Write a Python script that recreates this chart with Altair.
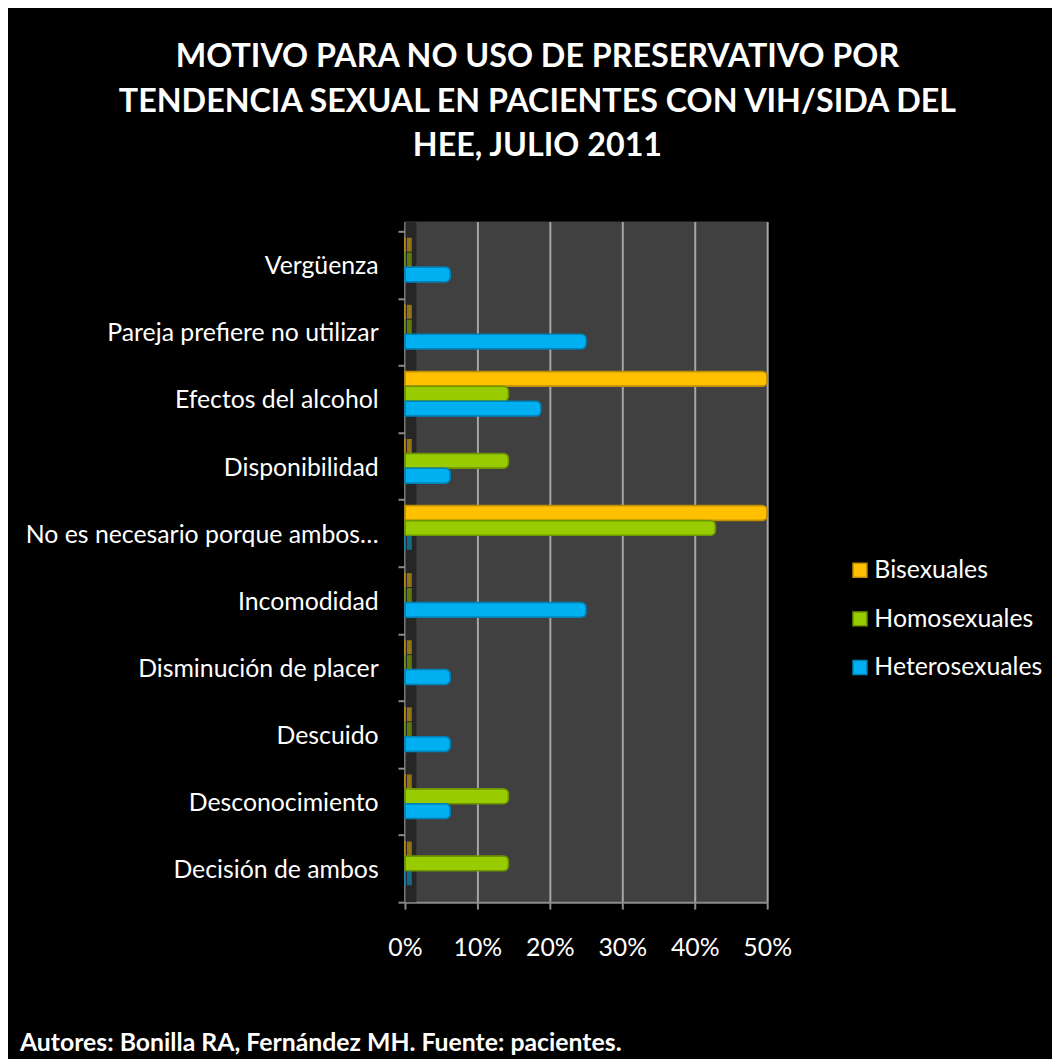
import altair as alt
import pandas as pd

FONT = "Lato"

categories = [
    "Vergüenza",
    "Pareja prefiere no utilizar",
    "Efectos del alcohol",
    "Disponibilidad",
    "No es necesario porque ambos…",
    "Incomodidad",
    "Disminución de placer",
    "Descuido",
    "Desconocimiento",
    "Decisión de ambos",
]
series = ["Bisexuales", "Homosexuales", "Heterosexuales"]
bisexuales = [0, 0, 50, 0, 50, 0, 0, 0, 0, 0]
homosexuales = [0, 0, 14.29, 14.29, 42.86, 0, 0, 0, 14.29, 14.29]
heterosexuales = [6.25, 25, 18.75, 6.25, 0, 25, 6.25, 6.25, 6.25, 0]
x_ticks = [0, 0.1, 0.2, 0.3, 0.4, 0.5]
fill_colors = ["#FFC000", "#99CC00", "#00B0F0"]
stroke_colors = ["#C08E00", "#6E9400", "#0083B8"]
title_lines = [
    "MOTIVO PARA NO USO DE PRESERVATIVO POR",
    "TENDENCIA SEXUAL EN PACIENTES CON VIH/SIDA DEL",
    "HEE, JULIO 2011",
]
footer = "Autores: Bonilla RA, Fernández MH. Fuente: pacientes."

rows = []
for i, c in enumerate(categories):
    for s, vals in zip(series, [bisexuales, homosexuales, heterosexuales]):
        rows.append({"motivo": c, "tendencia": s, "valor": vals[i] / 100})
df = pd.DataFrame(rows)

legend = alt.Legend(
    orient="none", legendX=446, legendY=339, title=None,
    labelColor="white", labelFont=FONT, labelFontSize=25, labelLimit=400,
    symbolType="square", symbolSize=196, symbolStrokeWidth=1.5,
    symbolOpacity=1, labelOffset=2, rowPadding=23,
)

y_enc = alt.Y(
    "motivo:N", sort=categories,
    scale=alt.Scale(paddingInner=0, paddingOuter=0.074, align=1),
    axis=alt.Axis(
        title=None, labelColor="white", labelFont=FONT, labelFontSize=25,
        labelPadding=20, tickSize=7, tickColor="#8c8c8c", tickWidth=2,
        domainColor="#8c8c8c", domainWidth=2, tickBand="extent",
        labelOffset=1, labelLimit=500,
    ),
)
x_enc = alt.X(
    "valor:Q",
    scale=alt.Scale(domain=[0, 0.5], nice=False),
    axis=alt.Axis(
        title=None, format="%", values=x_ticks, grid=True,
        gridColor="#a6a6a6", gridWidth=2, labelColor="white",
        labelFont=FONT, labelFontSize=25, labelPadding=27, tickSize=7,
        tickColor="#8c8c8c", tickWidth=2, domainColor="#8c8c8c",
        domainWidth=2, labelFlush=False,
    ),
)
yoff_enc = alt.YOffset(
    "tendencia:N", sort=series,
    scale=alt.Scale(paddingInner=0, paddingOuter=0.753, align=0.265),
)
fill_enc = alt.Fill(
    "tendencia:N", sort=series,
    scale=alt.Scale(domain=series, range=fill_colors), legend=legend,
)
stroke_enc = alt.Stroke(
    "tendencia:N", sort=series,
    scale=alt.Scale(domain=series, range=stroke_colors), legend=legend,
)

base = alt.Chart(df)

wall = alt.Chart(pd.DataFrame({"a": [0]})).mark_rule(
    color="#262626", strokeWidth=11
).encode(x=alt.value(6), y=alt.value(0), y2=alt.value(686))

bars = base.mark_bar(cornerRadiusEnd=5, strokeWidth=1.5).encode(
    x=x_enc, y=y_enc, yOffset=yoff_enc, fill=fill_enc, stroke=stroke_enc
)

stubs = base.transform_filter("datum.valor == 0").mark_point(
    shape="M0,-1 L0.7,-1 L0.7,1 L0,1 Z", filled=True, size=196,
    opacity=0.5, xOffset=2, strokeWidth=0,
).encode(x=x_enc, y=y_enc, yOffset=yoff_enc, fill=fill_enc)

foot = alt.Chart(pd.DataFrame({"t": [footer]})).mark_text(
    align="left", baseline="middle", font=FONT, fontSize=25,
    fontWeight="bold", color="white",
).encode(x=alt.value(-388), y=alt.value(828), text="t:N")

chart = alt.layer(wall, bars, stubs, foot).properties(
    width=365,
    height=686,
    autosize=alt.AutoSizeParams(type="none"),
    padding={"left": 400, "top": 211, "right": 287, "bottom": 154},
    background="black",
    title=alt.TitleParams(
        text=title_lines, font=FONT, fontSize=32.5, fontWeight="bold",
        color="white", lineHeight=45, anchor="middle", frame="group",
        dx=-49, offset=47,
    ),
).configure_view(fill="#404040", strokeWidth=0)

chart.save("out.html", embed_options={"renderer": "svg", "actions": False})
